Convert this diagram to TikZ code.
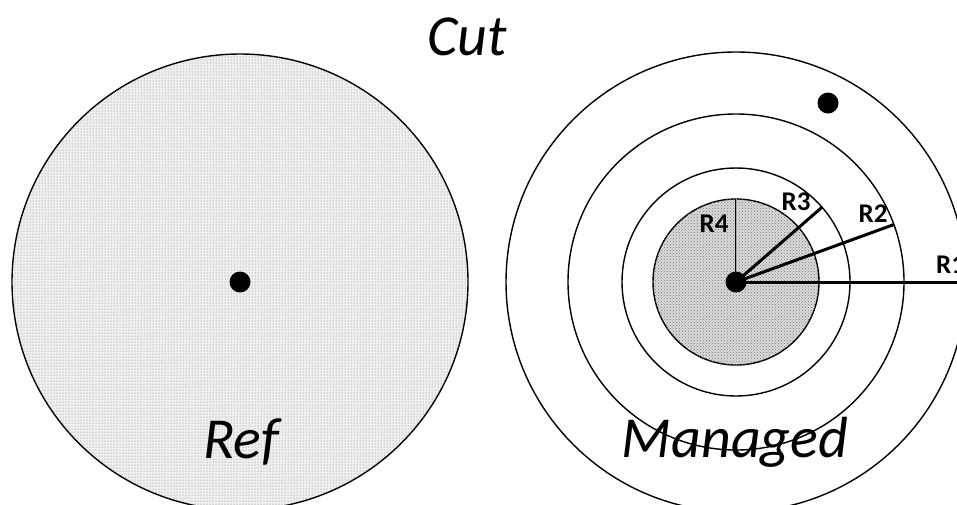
\documentclass[tikz,border=0pt]{standalone}
\usepackage{fontspec}
\setmainfont{Carlito}
\usetikzlibrary{patterns}
\begin{document}
\begin{tikzpicture}[x=1pt,y=-1pt,
  ring/.style={circle,draw=black,line width=1.4pt,inner sep=0pt,outer sep=0pt},
  refdisc/.style={ring,fill=black!6,postaction={pattern=dots,pattern color=black!55}},
  coredisc/.style={ring,fill=black!14,postaction={pattern=crosshatch dots,pattern color=black!55}},
  bigdot/.style={circle,fill=black,inner sep=0pt,outer sep=0pt,minimum size=21pt},
  radius/.style={line width=3pt,black},
  rlabel/.style={font=\bfseries\fontsize{27}{27}\selectfont,inner sep=0pt},
  title/.style={font=\itshape\fontsize{58}{58}\selectfont,inner sep=0pt,anchor=base}]
\useasboundingbox (0,0) rectangle (957,504);
% left disc
\node[refdisc,minimum size=456pt] (ref) at (240,282) {};
\node[bigdot] (refc) at (240,282) {};
% right rings
\node[ring,minimum size=460pt] (c1) at (736,282) {};
\node[ring,minimum size=336pt] (c2) at (736,282) {};
\node[ring,minimum size=228pt] (c3) at (736,282) {};
\node[coredisc,minimum size=166pt] (c4) at (736,282) {};
\node[bigdot] (extra) at (828,103) {};
% radii
\draw[radius] (736,282) -- (c1.0);
\draw[radius] (736,282) -- (c2.20);
\draw[radius] (736,282) -- (c3.41.5);
\draw[line width=0.9pt,double=black!35,double distance=1pt] (736,282) -- (c4.90);
\node[bigdot] (mc) at (736,282) {};
% radius labels
\node[rlabel] (l4) at (714,224) {R4};
\node[rlabel] (l3) at (796,202) {R3};
\node[rlabel] (l2) at (873,214) {R2};
\node[rlabel,anchor=west] (l1) at (936,265) {R1};
% titles
\node[title] (cut) at (467,55) {Cut};
\node[title] (reft) at (241,458) {Ref};
\node[title] (man) at (735,457) {Managed};
\end{tikzpicture}
\end{document}
